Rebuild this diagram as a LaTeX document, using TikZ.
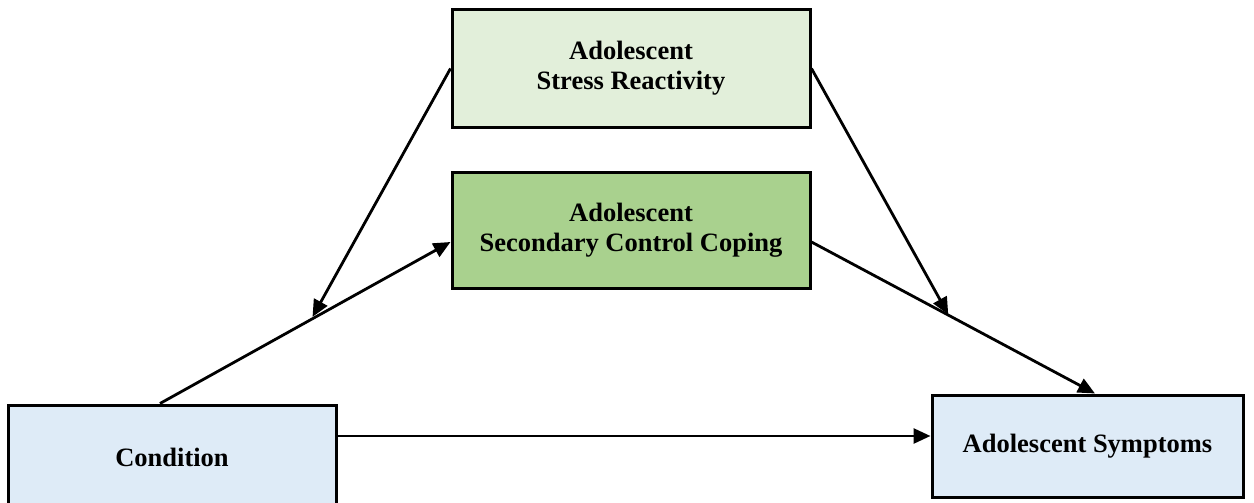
\documentclass[tikz,border=0pt]{standalone}
\usepackage{fontspec}
\setmainfont{Liberation Serif}
\usetikzlibrary{arrows.meta,calc}
\definecolor{stressfill}{HTML}{E2EFDA}
\definecolor{copefill}{HTML}{A9D18E}
\definecolor{bluefill}{HTML}{DEEBF7}
\begin{document}
\begin{tikzpicture}[x=1pt,y=-1pt,
  box/.style={draw=black,line width=3pt,rectangle,align=center,inner sep=0pt,
    font=\fontsize{26.5}{30}\selectfont\bfseries},
  conn/.style={line width=2.8pt,-{Triangle[length=17pt,width=15pt]}}]
\useasboundingbox (0,0) rectangle (1254,503);
\clip (0,0) rectangle (1254,503);
\node[box,fill=stressfill,minimum width=358pt,minimum height=117pt] (stress) at (631,68.5) {Adolescent\\Stress Reactivity};
\node[box,fill=copefill,minimum width=358pt,minimum height=116pt] (coping) at (631,230) {Adolescent\\Secondary Control Coping};
\node[box,fill=bluefill,minimum width=328pt,minimum height=105pt] (cond) at (172,457.5) {Condition};
\node[box,fill=bluefill,minimum width=311pt,minimum height=102pt] (symp) at (1087.5,446) {Adolescent Symptoms};
\coordinate (c1) at ([xshift=-12pt]cond.north);
\coordinate (c2) at ([yshift=-12pt]coping.west);
\coordinate (c3) at ([yshift=-12pt]coping.east);
\coordinate (c4) at ([xshift=7.5pt]symp.north);
\draw[conn] (c1) -- (c2) coordinate[pos=0.52] (m1);
\draw[conn] (c3) -- (c4) coordinate[pos=0.484] (m2);
\draw[conn,shorten >=3pt] (stress.west) -- (m1);
\draw[conn,shorten >=1pt] (stress.east) -- (m2);
\draw[conn] ([yshift=21.5pt]cond.east) -- ([yshift=10pt]symp.west);
\end{tikzpicture}
\end{document}
